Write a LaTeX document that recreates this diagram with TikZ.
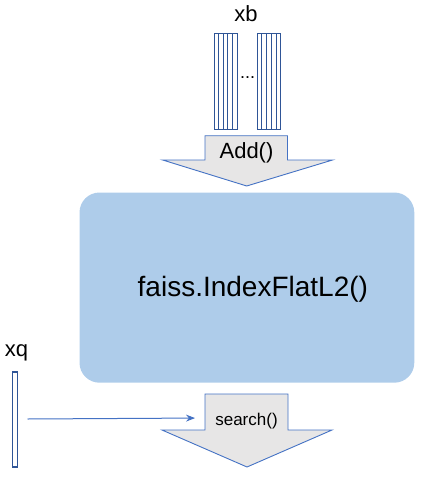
\documentclass[tikz,border=0pt]{standalone}
\usepackage{fontspec}
\setmainfont{Liberation Sans}
\usetikzlibrary{arrows.meta}
\definecolor{boxblue}{RGB}{174,204,234}
\definecolor{arrowgray}{RGB}{231,230,230}
\definecolor{lineblue}{RGB}{68,114,196}
\definecolor{darkblue}{RGB}{47,85,151}
\tikzset{
  lbl/.style={inner sep=0pt, font=\fontsize{22}{24}\selectfont},
  strip/.style={draw=darkblue, line width=1pt, fill=white},
  blockarrow/.style={draw=lineblue, line width=0.9pt, fill=arrowgray, line join=miter},
  indexbox/.style={fill=boxblue, rounded corners=20pt, draw=none},
  conn/.style={draw=lineblue, line width=1pt, -{Stealth[length=9pt,width=7pt]}}
}
\begin{document}
\begin{tikzpicture}[x=1pt,y=-1pt]
\useasboundingbox (0,0) rectangle (442,485);
% xb label
\node[lbl] (xb) at (246,14) {xb};
% data bars
\foreach \i in {0,...,4}{
  \draw[strip] ({214+\i*4.66},33) rectangle ({214+(\i+1)*4.66},129);
  \draw[strip] ({257.3+\i*4.68},33) rectangle ({257.3+(\i+1)*4.68},129);
}
\node[inner sep=0pt, font=\fontsize{18}{20}\selectfont] (dots) at (247.5,78) {...};
% Add arrow
\draw[blockarrow] (205,135.7) -- (287.5,135.7) -- (287.5,160) -- (332.5,160) -- (246.7,186) -- (162.7,160) -- (205,160) -- cycle;
\node[lbl] (add) at (246.5,153) {Add()};
% index box
\path[indexbox] (79.5,192.5) rectangle (414.3,382.7);
\node[inner sep=0pt, anchor=base west, font=\fontsize{28}{30}\selectfont] (idx) at (137.5,296) {faiss.IndexFlatL2()};
% search arrow
\draw[blockarrow] (205,394) -- (288,394) -- (288,430) -- (332,430) -- (247,467) -- (162,430) -- (205,430) -- cycle;
\node[inner sep=0pt, font=\fontsize{17}{19}\selectfont] (search) at (246.5,421) {search()};
\coordinate (sbox) at (205,418);
% xq
\node[lbl] (xq) at (16.5,353) {xq};
\draw[strip, line width=1.1pt] (12.5,372) rectangle (17.5,467);
\coordinate (xqbar) at (17.5,419);
\draw[conn, shorten >=10pt] ([xshift=10pt]xqbar) -- (sbox);
\end{tikzpicture}
\end{document}
